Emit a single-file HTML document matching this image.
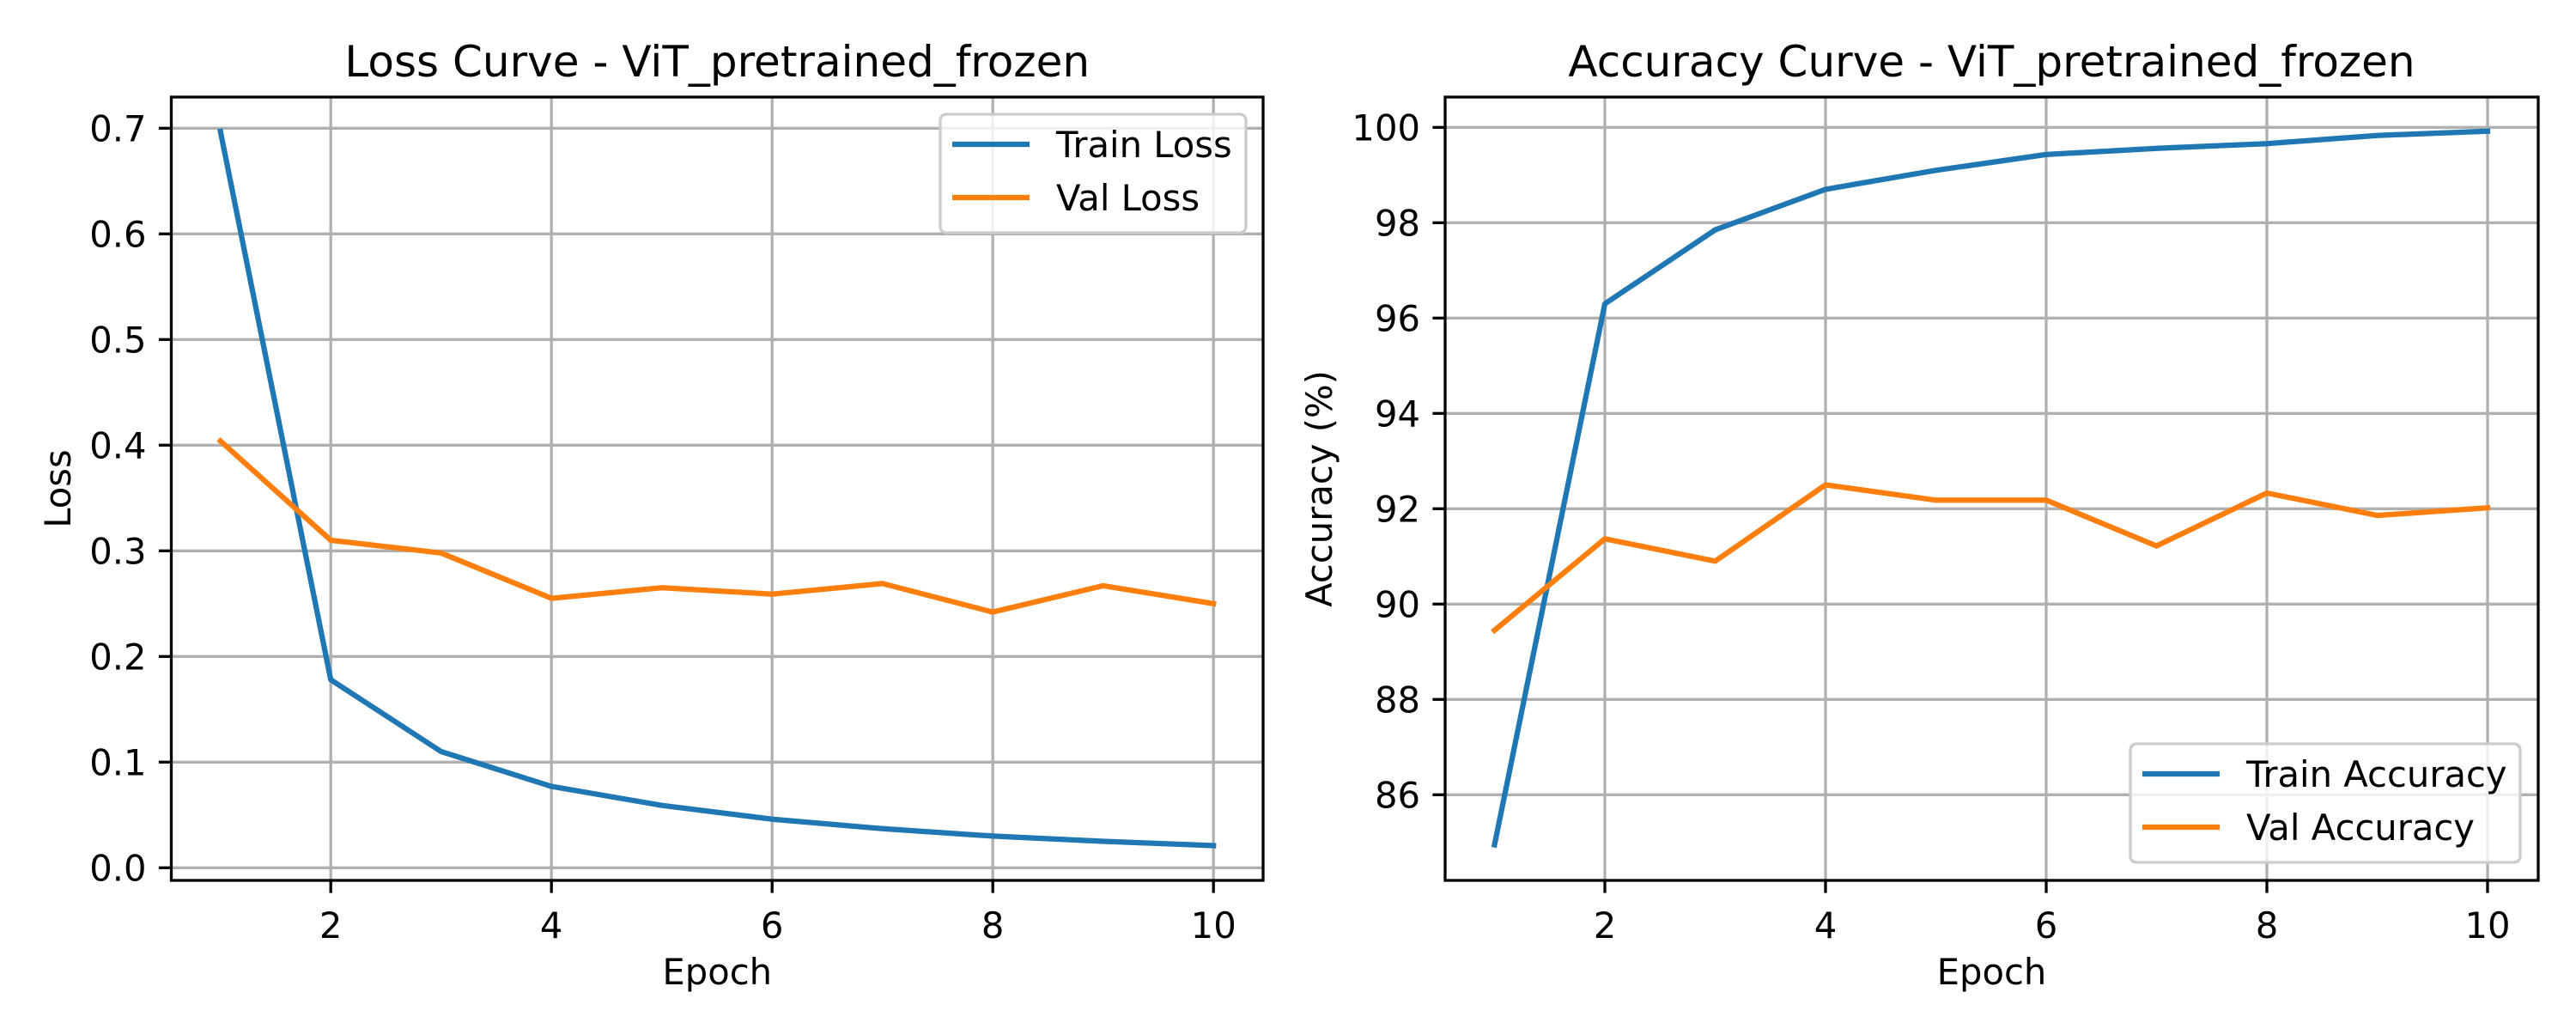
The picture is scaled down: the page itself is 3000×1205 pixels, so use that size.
<!DOCTYPE html>
<html><head><meta charset="utf-8"><style>
html,body{margin:0;padding:0;background:#fff;}
svg text{font-family:"DejaVu Sans","Liberation Sans",sans-serif;fill:#000;}
</style></head><body>
<svg id="fig" width="3000" height="1200" viewBox="0 0 3000 1200" xmlns="http://www.w3.org/2000/svg"></svg>
<script>
const epochs = [1,2,3,4,5,6,7,8,9,10];
const trainLoss = [0.697,0.178,0.110,0.077,0.059,0.046,0.037,0.030,0.025,0.021];
const valLoss = [0.404,0.310,0.298,0.255,0.265,0.259,0.269,0.242,0.267,0.250];
const trainAcc = [84.95,96.3,97.85,98.7,99.1,99.43,99.56,99.66,99.83,99.92];
const valAcc = [89.45,91.37,90.9,92.5,92.18,92.18,91.22,92.33,91.86,92.02];
const xTicks = [2,4,6,8,10];
const lossTicks = [0.0,0.1,0.2,0.3,0.4,0.5,0.6,0.7];
const lossTickLabels = ["0.0","0.1","0.2","0.3","0.4","0.5","0.6","0.7"];
const accTicks = [86,88,90,92,94,96,98,100];
const accTickLabels = ["86","88","90","92","94","96","98","100"];

const NS="http://www.w3.org/2000/svg";
const svg=document.getElementById('fig');
const FS=41.7;
function mk(tag,attrs,parent){const e=document.createElementNS(NS,tag);for(const k in attrs)e.setAttribute(k,attrs[k]);(parent||svg).appendChild(e);return e;}

function panel(cfg){
  const g=mk('g',{});
  
  
  const L=cfg.left,R=cfg.right,T=113,B=1025;
  const sx=v=>cfg.x1+(v-1)*128.5;
  const sy=v=>cfg.y0+(v-cfg.v0)*cfg.k;
  xTicks.forEach(t=>{const l=mk('line',{x1:sx(t),x2:sx(t),y1:T,y2:B,stroke:'#b0b0b0','stroke-width':3.3},g);
    });
  cfg.ticks.forEach(t=>{const l=mk('line',{x1:L,x2:R,y1:sy(t),y2:sy(t),stroke:'#b0b0b0','stroke-width':3.3},g);
    });
  cfg.series.forEach(s=>{
    const pts=epochs.map((e,i)=>sx(e).toFixed(1)+','+sy(s.data[i]).toFixed(1)).join(' ');
    const p=mk('polyline',{points:pts,fill:'none',stroke:s.color,'stroke-width':6.25,'stroke-linejoin':'round','stroke-linecap':'square'},g);
    
  });
  const r=mk('rect',{x:L,y:T,width:R-L,height:B-T,fill:'none',stroke:'#000','stroke-width':3.3},g);
  
  xTicks.forEach(t=>{mk('line',{x1:sx(t),x2:sx(t),y1:B,y2:B+14.6,stroke:'#000','stroke-width':3.3},g);
    const tx=mk('text',{x:sx(t),y:1092,'font-size':FS,'text-anchor':'middle'},g);tx.textContent=t;
    });
  cfg.ticks.forEach((t,i)=>{mk('line',{x1:L-14.6,x2:L,y1:sy(t),y2:sy(t),stroke:'#000','stroke-width':3.3},g);
    const tx=mk('text',{x:L-29,y:sy(t)+15,'font-size':FS,'text-anchor':'end'},g);tx.textContent=cfg.labels[i];
    });
  const ti=mk('text',{x:(L+R)/2,y:89,'font-size':50,'text-anchor':'middle'},g);ti.textContent=cfg.title;
  
  const xl=mk('text',{x:(L+R)/2,y:1146,'font-size':FS,'text-anchor':'middle'},g);xl.textContent='Epoch';
  
  const yl=mk('text',{x:cfg.ylx,y:(T+B)/2,'font-size':FS,'text-anchor':'middle',transform:`rotate(-90 ${cfg.ylx} ${(T+B)/2})`},g);yl.textContent=cfg.ylabel;
  
  const lg=mk('g',{},g);
  const b=cfg.leg;
  mk('rect',{x:b.x,y:b.y,width:b.w,height:138,rx:7,fill:'#fff','fill-opacity':0.8,stroke:'#cccccc','stroke-width':3.3},lg);
  cfg.series.forEach((s,i)=>{const yy=b.y+35+i*62;
    const ln=mk('line',{x1:b.x+14,x2:b.x+104,y1:yy,y2:yy,stroke:s.color,'stroke-width':6.25},lg);
    
    const tx=mk('text',{x:b.x+135,y:yy+15,'font-size':FS},lg);tx.textContent=s.label;
    });
}
panel({name:'loss-chart',left:199.5,right:1471,x1:256.7,y0:1010.3,v0:0,k:-1230,ticks:lossTicks,labels:lossTickLabels,
  title:'Loss Curve - ViT_pretrained_frozen',ylabel:'Loss',ylx:82,leg:{x:1095,y:133,w:356},
  series:[{name:'train-loss-line',label:'Train Loss',data:trainLoss,color:'#1f77b4'},{name:'val-loss-line',label:'Val Loss',data:valLoss,color:'#ff7f0e'}]});
panel({name:'accuracy-chart',left:1683,right:2956,x1:1740.5,y0:148.3,v0:100,k:-55.5,ticks:accTicks,labels:accTickLabels,
  title:'Accuracy Curve - ViT_pretrained_frozen',ylabel:'Accuracy (%)',ylx:1551,leg:{x:2481,y:866,w:454},
  series:[{name:'train-accuracy-line',label:'Train Accuracy',data:trainAcc,color:'#1f77b4'},{name:'val-accuracy-line',label:'Val Accuracy',data:valAcc,color:'#ff7f0e'}]});
</script>
</body></html>
